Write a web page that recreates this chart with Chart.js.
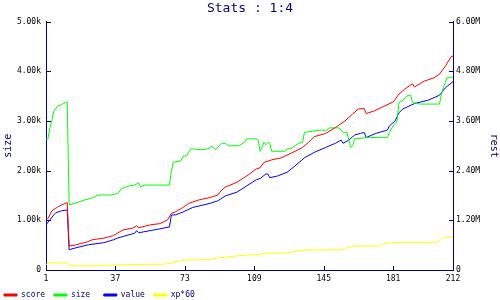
<!DOCTYPE html>
<html>
<head>
<meta charset="utf-8">
<script src="https://cdn.jsdelivr.net/npm/chart.js@4.4.1/dist/chart.umd.min.js"></script>
<style>
  html, body { margin: 0; padding: 0; background: #fff; }
  #wrap { width: 500px; height: 300px; }
</style>
</head>
<body>
<div id="wrap"><canvas id="stats" width="500" height="300"></canvas></div>
<script>
// Day index ticks along the bottom
const dayTicks = [1, 37, 73, 109, 145, 181, 212];

// size (left axis, raw units)
const sizeDays = [1, 2, 3, 4, 5, 6, 7, 9, 10, 12, 13, 14, 18, 21, 25, 28, 35, 38, 39, 40, 44, 47, 49, 50, 52, 65, 66, 67, 71, 72, 74, 76, 82, 85, 87, 89, 92, 94, 96, 101, 104, 105, 110, 111, 112, 113, 114, 115, 116, 117, 118, 125, 126, 128, 130, 132, 134, 135, 140, 144, 146, 148, 153, 155, 157, 158, 159, 160, 161, 166, 173, 178, 179, 181, 183, 184, 186, 188, 190, 191, 195, 205, 206, 207, 209, 212];
const sizeVals = [2640, 2640, 2860, 3000, 3190, 3240, 3300, 3330, 3350, 3380, 1320, 1320, 1370, 1410, 1450, 1510, 1510, 1540, 1570, 1640, 1690, 1710, 1760, 1670, 1710, 1710, 1990, 2170, 2200, 2290, 2300, 2440, 2420, 2440, 2490, 2420, 2550, 2550, 2500, 2500, 2570, 2640, 2640, 2620, 2390, 2470, 2570, 2520, 2570, 2550, 2390, 2390, 2440, 2440, 2500, 2550, 2570, 2770, 2800, 2820, 2800, 2860, 2860, 2770, 2770, 2620, 2470, 2500, 2640, 2660, 2670, 2670, 2770, 2900, 3000, 3370, 3420, 3500, 3520, 3370, 3340, 3340, 3540, 3670, 3880, 3880];

// score (right axis, millions)
const scoreDays = [1, 2, 3, 4, 6, 7, 9, 11, 12, 13, 16, 19, 22, 25, 31, 36, 38, 41, 46, 48, 49, 55, 60, 64, 66, 68, 72, 75, 80, 86, 90, 92, 94, 100, 105, 110, 112, 114, 118, 123, 128, 134, 137, 140, 146, 151, 156, 160, 163, 166, 167, 171, 176, 181, 184, 187, 191, 192, 197, 202, 205, 208, 211, 212];
const scoreVals = [1.24, 1.24, 1.33, 1.43, 1.49, 1.52, 1.57, 1.61, 1.63, 0.58, 0.60, 0.64, 0.67, 0.73, 0.77, 0.83, 0.89, 0.97, 1.01, 1.07, 1.02, 1.09, 1.12, 1.21, 1.37, 1.40, 1.51, 1.61, 1.69, 1.75, 1.81, 1.93, 2.00, 2.12, 2.27, 2.44, 2.47, 2.60, 2.66, 2.71, 2.82, 2.96, 3.08, 3.22, 3.30, 3.44, 3.60, 3.77, 3.89, 3.90, 3.78, 3.84, 3.95, 4.06, 4.25, 4.37, 4.50, 4.42, 4.56, 4.64, 4.73, 4.92, 5.15, 5.17];

// value (right axis, millions)
const valueDays = [1, 3, 5, 6, 9, 12, 13, 16, 23, 31, 36, 38, 47, 48, 49, 55, 65, 66, 68, 72, 77, 86, 90, 94, 100, 105, 110, 112, 115, 116, 117, 121, 126, 130, 135, 140, 146, 151, 154, 155, 158, 161, 164, 166, 167, 172, 178, 179, 182, 184, 186, 192, 199, 205, 208, 212];
const valueVals = [1.09, 1.21, 1.33, 1.38, 1.43, 1.45, 0.49, 0.53, 0.61, 0.66, 0.73, 0.77, 0.89, 0.95, 0.90, 0.95, 1.04, 1.33, 1.33, 1.40, 1.51, 1.61, 1.67, 1.79, 1.88, 2.03, 2.18, 2.21, 2.32, 2.32, 2.23, 2.27, 2.36, 2.51, 2.71, 2.84, 2.96, 3.06, 3.14, 3.06, 3.14, 3.26, 3.30, 3.32, 3.20, 3.30, 3.38, 3.48, 3.60, 3.80, 3.89, 4.02, 4.10, 4.22, 4.40, 4.55];

// xp*60 (right axis, millions)
const xpDays = [1, 2, 12, 13, 27, 28, 36, 42, 62, 66, 70, 72, 86, 90, 100, 105, 111, 115, 126, 131, 135, 155, 157, 161, 174, 176, 184, 204, 206, 209, 212];
const xpVals = [0.13, 0.17, 0.17, 0.10, 0.10, 0.11, 0.12, 0.13, 0.14, 0.17, 0.22, 0.24, 0.25, 0.29, 0.34, 0.36, 0.37, 0.41, 0.41, 0.46, 0.48, 0.49, 0.53, 0.58, 0.58, 0.64, 0.67, 0.67, 0.76, 0.80, 0.80];

const NAVY = '#000080';
const MONO = '"DejaVu Sans Mono", "Liberation Mono", monospace';

const toPoints = (days, vals) => days.map((d, i) => ({ x: d, y: vals[i] }));

// short tick marks pointing into the plot, like the original
const innerTicks = {
  id: 'innerTicks',
  afterDraw(chart) {
    const { ctx, chartArea: a, scales } = chart;
    ctx.save();
    ctx.strokeStyle = NAVY;
    ctx.lineWidth = 1;
    ctx.beginPath();
    scales.x.ticks.forEach((t) => {
      const px = Math.round(scales.x.getPixelForValue(t.value)) + 0.5;
      ctx.moveTo(px, a.bottom);
      ctx.lineTo(px, a.bottom - 4);
    });
    scales.y.ticks.forEach((t) => {
      const py = Math.round(scales.y.getPixelForValue(t.value)) + 0.5;
      ctx.moveTo(a.left, py);
      ctx.lineTo(a.left + 5, py);
    });
    scales.y1.ticks.forEach((t) => {
      const py = Math.round(scales.y1.getPixelForValue(t.value)) + 0.5;
      ctx.moveTo(a.right, py);
      ctx.lineTo(a.right - 4, py);
    });
    ctx.stroke();
    ctx.restore();
  },
};

const line = (label, color, pts, axis) => ({
  label,
  data: pts,
  yAxisID: axis,
  borderColor: color,
  backgroundColor: color,
  borderWidth: 1,
  pointRadius: 0,
  tension: 0,
});

new Chart(document.getElementById('stats'), {
  type: 'line',
  data: {
    datasets: [
      line('score', '#ff0000', toPoints(scoreDays, scoreVals), 'y1'),
      line('size', '#00ff00', toPoints(sizeDays, sizeVals), 'y'),
      line('value', '#0000ff', toPoints(valueDays, valueVals), 'y1'),
      line('xp*60', '#ffff00', toPoints(xpDays, xpVals), 'y1'),
    ],
  },
  options: {
    responsive: false,
    animation: false,
    // the legend block carries extra space below, let it hang off the edge
    layout: { padding: { top: 0, left: 0, right: 0, bottom: -9 } },
    plugins: {
      title: {
        display: true,
        text: 'Stats : 1:4',
        color: NAVY,
        font: { family: MONO, size: 13, weight: 'normal' },
        padding: { top: 1, bottom: 5 },
      },
      legend: {
        position: 'bottom',
        align: 'start',
        labels: {
          color: NAVY,
          font: { family: MONO, size: 8 },
          boxWidth: 13,
          boxHeight: 2,
          padding: 4,
          // equal-width legend cells, as in the original
          generateLabels: (chart) =>
            Chart.defaults.plugins.legend.labels.generateLabels(chart).map((l) => ({ ...l, text: l.text.padEnd(6, ' ') })),
        },
      },
      tooltip: { enabled: false },
    },
    scales: {
      x: {
        type: 'linear',
        min: 1,
        max: 212,
        afterBuildTicks: (s) => { s.ticks = dayTicks.map((v) => ({ value: v })); },
        ticks: { color: '#000', font: { family: MONO, size: 8 }, padding: 4, maxRotation: 0, autoSkip: false },
        grid: { display: false, drawTicks: false },
        border: { color: NAVY, width: 1 },
        afterFit: (s) => { s.height = 17; },
      },
      y: {
        position: 'left',
        min: 0,
        max: 5000,
        ticks: {
          stepSize: 1000,
          color: '#000',
          font: { family: MONO, size: 8 },
          padding: 5,
          callback: (v) => (v === 0 ? '0' : (v / 1000).toFixed(2) + 'k'),
        },
        grid: { display: false, drawTicks: false },
        border: { color: NAVY, width: 1 },
        title: { display: true, text: 'size', color: NAVY, font: { family: MONO, size: 10 }, padding: { top: 2, bottom: 0 } },
        afterFit: (s) => { s.width = 46; },
      },
      y1: {
        position: 'right',
        min: 0,
        max: 6,
        ticks: {
          stepSize: 1.2,
          color: '#000',
          font: { family: MONO, size: 8 },
          padding: 3,
          callback: (v) => (v === 0 ? '0' : v.toFixed(2) + 'M'),
        },
        grid: { display: false, drawTicks: false },
        border: { color: NAVY, width: 1 },
        title: { display: true, text: 'rest', color: NAVY, font: { family: MONO, size: 10 }, padding: { top: 0, bottom: 0 } },
        afterFit: (s) => { s.width = 47; },
      },
    },
  },
  plugins: [innerTicks],
});
</script>
</body>
</html>
